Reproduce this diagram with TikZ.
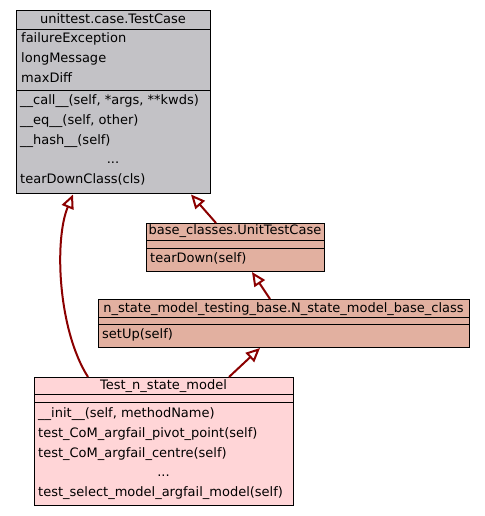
\documentclass[tikz,border=0pt]{standalone}
\usepackage{fontspec}
\setmainfont{DejaVu Sans}
\usetikzlibrary{arrows.meta}
\definecolor{gbox}{RGB}{195,194,198}
\definecolor{sbox}{RGB}{226,176,160}
\definecolor{pbox}{RGB}{255,213,215}
\definecolor{arr}{RGB}{139,0,0}
\begin{document}
\begin{tikzpicture}[x=1pt,y=-1pt,
 box/.style={draw=black, line width=0.9pt, anchor=north west, inner sep=0pt, outer sep=0pt},
 txt/.style={anchor=base west, inner sep=0pt, font=\fontsize{13}{15}\selectfont},
 ctxt/.style={anchor=base, inner sep=0pt, font=\fontsize{13}{15}\selectfont},
 div/.style={draw=black, line width=0.9pt},
 inh/.style={draw=arr, line width=2pt, -{Triangle[open, length=14pt, width=12.5pt]}}
]
\fill[white] (0,0) rectangle (484,516);
\useasboundingbox (0,0) rectangle (484,516);

% unittest.case.TestCase
\node[box, fill=gbox, minimum width=194pt, minimum height=183pt] (tc) at (16,10.5) {};
\draw[div] ([yshift=-18.5pt]tc.north west) -- ([yshift=-18.5pt]tc.north east);
\draw[div] ([yshift=-79.5pt]tc.north west) -- ([yshift=-79.5pt]tc.north east);
\node[ctxt] (tc-t) at (113,24) {unittest.case.TestCase};
\node[txt] (tc-a1) at (21,43) {failureException};
\node[txt] (tc-a2) at (21,62.7) {longMessage};
\node[txt] (tc-a3) at (21,82.4) {maxDiff};
\node[txt] (tc-m1) at (20,104.6) {\_\_call\_\_(self, *args, **kwds)};
\node[txt] (tc-m2) at (20,124.3) {\_\_eq\_\_(self, other)};
\node[txt] (tc-m3) at (20,144) {\_\_hash\_\_(self)};
\node[ctxt] (tc-m4) at (113,163.7) {...};
\node[txt] (tc-m5) at (20,183.4) {tearDownClass(cls)};

% base_classes.UnitTestCase
\node[box, fill=sbox, minimum width=178pt, minimum height=48pt] (ut) at (146,223) {};
\draw[div] ([yshift=-17pt]ut.north west) -- ([yshift=-17pt]ut.north east);
\draw[div] ([yshift=-25pt]ut.north west) -- ([yshift=-25pt]ut.north east);
\node[ctxt] (ut-t) at (235,234.3) {base\_classes.UnitTestCase};
\node[txt] (ut-m1) at (150,262) {tearDown(self)};

% n_state_model_testing_base.N_state_model_base_class
\node[box, fill=sbox, minimum width=371pt, minimum height=48pt] (nb) at (98,299) {};
\draw[div] ([yshift=-18pt]nb.north west) -- ([yshift=-18pt]nb.north east);
\draw[div] ([yshift=-25pt]nb.north west) -- ([yshift=-25pt]nb.north east);
\node[ctxt] (nb-t) at (283.5,312) {n\_state\_model\_testing\_base.N\_state\_model\_base\_class};
\node[txt] (nb-m1) at (102,338) {setUp(self)};

% Test_n_state_model
\node[box, fill=pbox, minimum width=259pt, minimum height=128pt] (tn) at (34,377) {};
\draw[div] ([yshift=-17pt]tn.north west) -- ([yshift=-17pt]tn.north east);
\draw[div] ([yshift=-25pt]tn.north west) -- ([yshift=-25pt]tn.north east);
\node[ctxt] (tn-t) at (163.5,389.3) {Test\_n\_state\_model};
\node[txt] (tn-m1) at (38,417.7) {\_\_init\_\_(self, methodName)};
\node[txt] (tn-m2) at (38,437.4) {test\_CoM\_argfail\_pivot\_point(self)};
\node[txt] (tn-m3) at (38,457.1) {test\_CoM\_argfail\_centre(self)};
\node[ctxt] (tn-m4) at (163.5,476.8) {...};
\node[txt] (tn-m5) at (38,496.5) {test\_select\_model\_argfail\_model(self)};

% inheritance arrows
\draw[inh] ([xshift=70pt]ut.north west) -- ([xshift=175pt,yshift=-1pt]tc.south west);
\draw[inh] ([xshift=172pt]nb.north west) -- ([xshift=106pt,yshift=-1pt]ut.south west);
\draw[inh] ([xshift=195pt]tn.north west) -- ([xshift=162pt,yshift=-1pt]nb.south west);
\draw[inh] ([xshift=54pt]tn.north west) .. controls (58,330) and (54,240) .. ([xshift=57pt,yshift=-1pt]tc.south west);
\end{tikzpicture}
\end{document}
